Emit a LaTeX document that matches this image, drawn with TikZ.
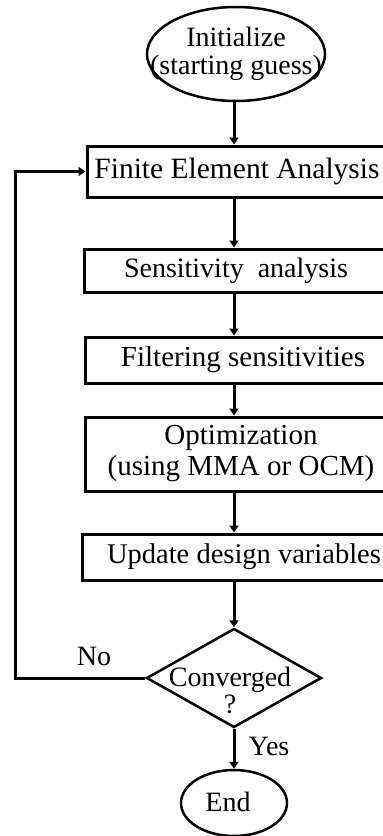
\documentclass[tikz,border=0pt]{standalone}
\usepackage{fontspec}
\setmainfont{Liberation Serif}
\usetikzlibrary{shapes.geometric,arrows.meta}
\begin{document}
\begin{tikzpicture}[x=1pt,y=-1pt,
  txt/.style={font=\fontsize{28}{28}\selectfont,align=center,inner sep=0pt},
  box/.style={draw,line width=3pt,rectangle,inner sep=0pt,align=center,font=\fontsize{29}{31}\selectfont},
  outline/.style={draw,line width=2.5pt,inner sep=0pt},
  arr/.style={line width=3pt,-{Triangle[length=7pt,width=9pt]}},
  lbl/.style={font=\fontsize{28}{28}\selectfont,inner sep=0pt}]
\useasboundingbox (0,0) rectangle (383,836);
\clip (0,0) rectangle (383,836);
\coordinate (trunk) at (234,0);
\coordinate (loopx) at (15,0);
% start ellipse
\node[outline,ellipse,minimum width=178pt,minimum height=94pt] (init) at (236,54) {};
\node[txt] (inittext) at (236,54) {Initialize\\(starting guess)};
% boxes
\node[box,minimum width=300pt,minimum height=51pt,font=\fontsize{29.5}{31}\selectfont] (fea) at (237,171.5) {Finite Element Analysis};
\node[box,minimum width=304pt,minimum height=43pt,font=\fontsize{28}{30}\selectfont] (sens) at (236,270.5) {Sensitivity\ \ analysis};
\node[box,minimum width=316pt,minimum height=46pt] (filt) at (243,360) {Filtering sensitivities};
\node[box,minimum width=312pt,minimum height=74pt] (opt) at (241,454) {Optimization\\(using MMA or OCM)};
\node[box,minimum width=324pt,minimum height=46pt,font=\fontsize{28.5}{31}\selectfont] (upd) at (244,557) {Update design variables};
% decision
\node[outline,diamond,minimum width=175pt,minimum height=99pt] (conv) at (234,678) {};
\node[txt,font=\fontsize{28}{27}\selectfont] (convtext) at (230,690) {Converged\\?};
% end
\node[outline,ellipse,minimum width=106pt,minimum height=66pt] (end) at (234,803) {};
\node[txt] (endtext) at (228,802) {End};
% labels
\node[lbl] (no) at (94,656) {No};
\node[lbl] (yes) at (269,746) {Yes};
% connectors
\draw[arr] (trunk |- init.south) -- (trunk |- fea.north);
\draw[arr] (trunk |- fea.south) -- (trunk |- sens.north);
\draw[arr] (trunk |- sens.south) -- (trunk |- filt.north);
\draw[arr] (trunk |- filt.south) -- (trunk |- opt.north);
\draw[arr] (trunk |- opt.south) -- (trunk |- upd.north);
\draw[arr] (trunk |- upd.south) -- (conv.north);
\draw[arr] (conv.south) -- (end.north);
\draw[arr] (conv.west) -- (loopx |- conv.west) -- (loopx |- fea.west) -- (fea.west);
\end{tikzpicture}
\end{document}
